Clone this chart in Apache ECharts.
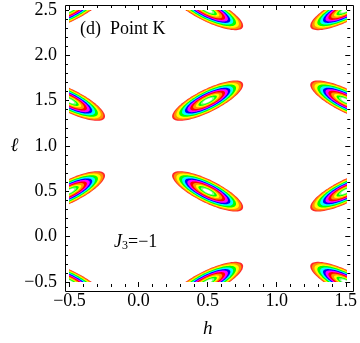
<!DOCTYPE html>
<html><head><meta charset="utf-8">
<script src="https://cdn.jsdelivr.net/npm/echarts@6/dist/echarts.min.js"></script>
<style>html,body{margin:0;padding:0;background:#fff}#c{width:360px;height:343px}</style>
</head><body><div id="c"></div>
<script>
// Blob centres (h, l) and tilt (+1 = rising to the right, -1 = falling)
const blobH    = [-0.5, 0.5, 1.5, -0.5, 0.5, 1.5, -0.5, 0.5, 1.5, -0.5, 0.5, 1.5];
const blobL    = [ 2.5, 2.5, 2.5,  1.5, 1.5, 1.5,  0.5, 0.5, 0.5, -0.5, -0.5, -0.5];
const blobTilt = [ 1,  -1,   1,   -1,   1,  -1,    1,  -1,   1,   -1,    1,   -1];
// contour band levels (fraction of the outer contour) and colours, outer -> inner
const bandLevels = [1.0, 0.95, 0.88, 0.80, 0.72, 0.64, 0.57, 0.49, 0.41, 0.33, 0.26, 0.19, 0.13];
const bandColors = ['#ff2a2a', '#ff9500', '#ffff00', '#00ff00', '#00ffff', '#0000ff', '#ff00ff',
                    '#ff0000', '#ff9500', '#ffff00', '#00ff00', '#88ff88', '#ffffff'];
const xTickLabels = [-0.5, 0, 0.5, 1, 1.5];
const yTickLabels = [-0.5, 0, 0.5, 1, 1.5, 2, 2.5];

// ellipse shape (data units): conjugate semi-axes for a rising blob
const MAJ_H = 0.2545, MAJ_L = 0.192, MIN_H = 0.0368, MIN_L = -0.1127;

const data = blobH.map((h, i) => [h, blobL[i], blobTilt[i]]);
const fmt = v => {
  const s = (Math.round(v * 10) / 10).toFixed(1);
  return s.replace('-', '\u2212');
};
const FONT = 'Liberation Serif';

const chart = echarts.init(document.getElementById('c'), null, {renderer: 'canvas'});
function axisCommon(pos, isX, labels) {
  const ticks = isX ? xTickLabels : yTickLabels;
  return {
    type: 'value', position: pos, offset: isX ? 5 : 4.5,
    min: ticks[0], max: ticks[ticks.length - 1], interval: 0.5,
    axisLine: {show: false, onZero: false},
    axisTick: {show: true, inside: true, length: 5, lineStyle: {color: '#000', width: 1}},
    minorTick: {show: true, splitNumber: 5, length: 3, lineStyle: {color: '#000', width: 1}},
    splitLine: {show: false}, minorSplitLine: {show: false},
    axisLabel: labels ? {show: true, color: '#000', fontFamily: FONT, fontSize: 18,
      margin: isX ? 5 : 8, formatter: fmt, showMinLabel: true, showMaxLabel: true} : {show: false}
  };
}
const option = {
  animation: false,
  backgroundColor: '#fff',
  grid: {left: 69.5, right: 10, top: 10, bottom: 56},
  xAxis: [
    Object.assign(axisCommon('bottom', true, true), {name: 'h', nameLocation: 'middle', nameGap: 32,
      nameTextStyle: {fontFamily: FONT, fontStyle: 'italic', fontSize: 19, color: '#000'}}),
    axisCommon('top', true, false)
  ],
  yAxis: [
    Object.assign(axisCommon('left', false, true), {name: '\u2113', nameLocation: 'middle', nameGap: 41, nameRotate: 0,
      nameTextStyle: {fontFamily: FONT, fontStyle: 'italic', fontSize: 19, color: '#000', padding: [6, 0, 0, 0]}}),
    axisCommon('right', false, false)
  ],
  graphic: [
    {type: 'rect', z: 100, shape: {x: 65.5, y: 5.5, width: 288, height: 286},
      style: {fill: null, stroke: '#000', lineWidth: 1}},
    {type: 'text', z: 100, left: 80, top: 20,
      style: {text: '(d)  Point K', font: '18px "Liberation Serif"', fill: '#000'}},
    {type: 'text', z: 100, left: 114, top: 233,
      style: {text: '{j|J}{s|3}{t|=\u22121}', fill: '#000',
        rich: {j: {fontFamily: FONT, fontStyle: 'italic', fontSize: 18},
               s: {fontFamily: FONT, fontSize: 12, verticalAlign: 'bottom', padding: [8, 0, 0, 0]},
               t: {fontFamily: FONT, fontSize: 18}}}}
  ],
  series: [{
    type: 'custom', clip: true, xAxisIndex: 0, yAxisIndex: 0,
    data: data,
    renderItem: function (params, api) {
      const h = api.value(0), l = api.value(1), s = api.value(2);
      const children = [];
      const N = 90;
      for (let k = 0; k < bandLevels.length; k++) {
        const r = bandLevels[k];
        const pts = [];
        for (let i = 0; i < N; i++) {
          const t = 2 * Math.PI * i / N, c = Math.cos(t), sn = Math.sin(t);
          const dh = r * (MAJ_H * c + MIN_H * sn);
          const dl = s * r * (MAJ_L * c + MIN_L * sn);
          pts.push(api.coord([h + dh, l + dl]));
        }
        children.push({type: 'polygon', shape: {points: pts}, style: {fill: bandColors[k]}});
      }
      return {type: 'group', children: children};
    }
  }]
};
chart.setOption(option);
</script></body></html>
